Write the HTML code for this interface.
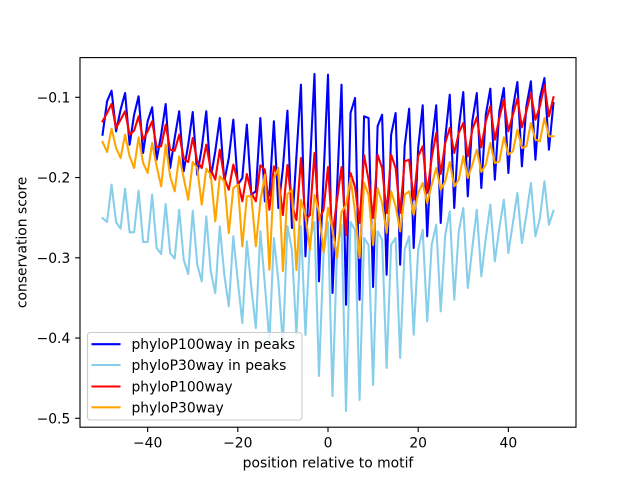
<!DOCTYPE html>
<html>
<head>
<meta charset="utf-8">
<style>
  html, body { margin:0; padding:0; background:#ffffff; }
  svg { display:block; }
  text { font-family: "DejaVu Sans", "Liberation Sans", sans-serif; fill:#000; }
</style>
</head>
<body>
<svg width="640" height="480" viewBox="0 0 640 480" xmlns="http://www.w3.org/2000/svg">
  <rect x="0" y="0" width="640" height="480" fill="#ffffff"/>
  <defs>
    <clipPath id="ax"><rect x="80" y="57.6" width="496" height="369.6"/></clipPath>
  </defs>

  <g clip-path="url(#ax)">
    <g transform="translate(102.545,0) scale(4.50909,1)" fill="none" stroke-width="2.08" stroke-linejoin="round" stroke-linecap="square">
      <polyline vector-effect="non-scaling-stroke" stroke="#0000ff" points="0,134.7 1,101.3 2,90.7 3,131.3 4,109.7 5,93 6,144.7 7,114.7 8,96.3 9,153 10,121.3 11,107.3 12,159.7 13,134.7 14,104 15,168 16,138 17,111.3 18,171.3 19,144.7 20,112 21,174.7 22,148 23,111.3 24,178 25,151.3 26,118 27,181.3 28,158 29,119.7 30,184.7 31,178 32,124.7 33,194.7 34,191.3 35,118 36,201.3 37,194.7 38,121.3 39,208 40,168 41,110.7 42,228 43,156 44,84.7 45,256.3 46,165 47,74 48,281.3 49,178 50,74.7 51,293 52,189 53,84.7 54,304.7 55,113 56,98 57,299.7 58,116.3 59,118 60,287 61,126.3 62,114.7 63,274.7 64,134.7 65,113 66,264.7 67,146.3 68,108.7 69,248 70,148 71,105.3 72,236.3 73,144.7 74,105.3 75,223 76,138 77,94.7 78,208 79,128 80,92 81,196.3 82,121.3 83,93 84,188 85,114.7 86,88.7 87,179.7 88,111.3 89,88 90,173 91,108 92,82 93,166.3 94,106.3 95,81.3 96,159.7 97,98 98,78 99,149.7 100,103"/>
      <polyline vector-effect="non-scaling-stroke" stroke="#87ceeb" points="0,218 1,222 2,184.7 3,222 4,228.7 5,188.7 6,232.3 7,232.3 8,190.7 9,242 10,242 11,194.7 12,248 13,254 14,204 15,253 16,258.7 17,209.7 18,259.7 19,274 20,210.7 21,264.7 22,281.3 23,216.3 24,271.3 25,293 26,226.3 27,274.7 28,306.3 29,236.3 30,281.3 31,323 32,241.3 33,288 34,328 35,231.3 36,284.7 37,341.3 38,238 39,281.3 40,345 41,226 42,250 43,335 44,226 45,335 46,240 47,222 48,376 49,255 50,222 51,396 52,250 53,225 54,411 55,222 56,230 57,400 58,238 59,245 60,385 61,231.3 62,239.7 63,368 64,244.7 65,238 66,358 67,249.7 68,236.3 69,334.7 70,249.7 71,229.7 72,321.3 73,244.7 74,224.7 75,311.3 76,234.7 77,211.3 78,299.7 79,231.3 80,208 81,288 82,248 83,209.7 84,276.3 85,238 86,204.7 87,261.3 88,228 89,199.7 90,253 91,223 92,193 93,243 94,214.7 95,183 96,236.3 97,218 98,181.3 99,224.7 100,210.7"/>
      <polyline vector-effect="non-scaling-stroke" stroke="#ff0000" points="0,121.3 1,113 2,104 3,128 4,119.7 5,111.3 6,134.7 7,130.7 8,116.3 9,139.7 10,131.3 11,121.3 12,147.3 13,146.3 14,124.7 15,149.7 16,150.7 17,134.7 18,158 19,162 20,138 21,161.3 22,168 23,144.7 24,169.7 25,179.7 26,149.7 27,178 28,189.7 29,164.7 30,181.3 31,201.3 32,174 33,193 34,201.3 35,165.3 36,169.7 37,209.7 38,166.3 39,178 40,215 41,165 42,205 43,220 44,158 45,220 46,215 47,153 48,220 49,210 50,167 51,235 52,200 53,167 54,235 55,173 56,187 57,223 58,155 59,180 60,218 61,154.7 62,168 63,213 64,154.7 65,168 66,213 67,161.3 68,159.7 69,199.7 70,156.3 71,146.3 72,193 73,158 74,133 75,174 76,143 77,128 78,153 79,133 80,123 81,156.3 82,129.7 83,117.3 84,147.3 85,121.3 86,106.3 87,139.7 88,118 89,99.7 90,131.3 91,114.7 92,98.7 93,127.3 94,111.3 95,93 96,119.7 97,106.3 98,85.3 99,116.3 100,97.3"/>
      <polyline vector-effect="non-scaling-stroke" stroke="#ffa500" points="0,142 1,152 2,128.7 3,148 4,158 5,134.7 6,156.3 7,168 8,137.3 9,163 10,173 11,143 12,166.3 13,186.3 14,144.7 15,176.3 16,191.3 17,156.3 18,178 19,199.7 20,162 21,168 22,204.7 23,168.7 24,174.7 25,221.3 26,176.3 27,181.3 28,233 29,188 30,184.7 31,246.3 32,196.3 33,196.3 34,246.3 35,201.3 36,174.7 37,269.7 38,178 39,168 40,271 41,194 42,190 43,270 44,200 45,215 46,250 47,195 48,212 49,252 50,208 51,230 52,258 53,212 54,205 55,178 56,212 57,258 58,183 59,195 60,245 61,188 62,203 63,233 64,191.3 65,206.3 66,231.3 67,194.7 68,191.3 69,214.7 70,193 71,183 72,203 73,184.7 74,168 75,189.7 76,181.3 77,162 78,186.3 79,179.7 80,156.3 81,178 82,164.7 83,149.7 84,172 85,164.7 86,143 87,163 88,161.3 89,137.3 90,154.7 91,151.3 92,129.7 93,148 94,146.3 95,123 96,139.7 97,141.3 98,118 99,136.3 100,136.3"/>
    </g>
  </g>

  <!-- axes frame -->
  <rect x="80" y="57.6" width="496" height="369.6" fill="none" stroke="#000" stroke-width="1.11"/>

  <!-- x ticks -->
  <g stroke="#000" stroke-width="1.11">
    <line x1="147.64" y1="427.2" x2="147.64" y2="432.06"/>
    <line x1="237.82" y1="427.2" x2="237.82" y2="432.06"/>
    <line x1="328" y1="427.2" x2="328" y2="432.06"/>
    <line x1="418.18" y1="427.2" x2="418.18" y2="432.06"/>
    <line x1="508.36" y1="427.2" x2="508.36" y2="432.06"/>
  </g>
  <g font-size="13.89" text-anchor="middle">
    <text x="147.64" y="447.5">−40</text>
    <text x="237.82" y="447.5">−20</text>
    <text x="328" y="447.5">0</text>
    <text x="418.18" y="447.5">20</text>
    <text x="508.36" y="447.5">40</text>
  </g>

  <!-- y ticks -->
  <g stroke="#000" stroke-width="1.11">
    <line x1="75.14" y1="97.3" x2="80" y2="97.3"/>
    <line x1="75.14" y1="177.55" x2="80" y2="177.55"/>
    <line x1="75.14" y1="257.8" x2="80" y2="257.8"/>
    <line x1="75.14" y1="338.05" x2="80" y2="338.05"/>
    <line x1="75.14" y1="418.3" x2="80" y2="418.3"/>
  </g>
  <g font-size="13.89" text-anchor="end">
    <text x="70.3" y="102.3">−0.1</text>
    <text x="70.3" y="182.55">−0.2</text>
    <text x="70.3" y="262.8">−0.3</text>
    <text x="70.3" y="343.05">−0.4</text>
    <text x="70.3" y="423.3">−0.5</text>
  </g>

  <!-- axis labels -->
  <text x="328" y="467.5" font-size="13.89" text-anchor="middle">position relative to motif</text>
  <text transform="translate(26.5,242.4) rotate(-90)" font-size="13.89" text-anchor="middle">conservation score</text>

  <!-- legend -->
  <rect x="87.5" y="332.5" width="214.5" height="87.5" rx="2.8" ry="2.8" fill="#ffffff" fill-opacity="0.8" stroke="#cccccc" stroke-width="1.11"/>
  <g stroke-width="2.08" stroke-linecap="square">
    <line x1="92.5" y1="344.2" x2="119.5" y2="344.2" stroke="#0000ff"/>
    <line x1="92.5" y1="365" x2="119.5" y2="365" stroke="#87ceeb"/>
    <line x1="92.5" y1="386.5" x2="119.5" y2="386.5" stroke="#ff0000"/>
    <line x1="92.5" y1="407.3" x2="119.5" y2="407.3" stroke="#ffa500"/>
  </g>
  <g font-size="13.89">
    <text x="131.5" y="349.2">phyloP100way in peaks</text>
    <text x="131.5" y="370">phyloP30way in peaks</text>
    <text x="131.5" y="391.5">phyloP100way</text>
    <text x="131.5" y="412.3">phyloP30way</text>
  </g>
</svg>
</body>
</html>
